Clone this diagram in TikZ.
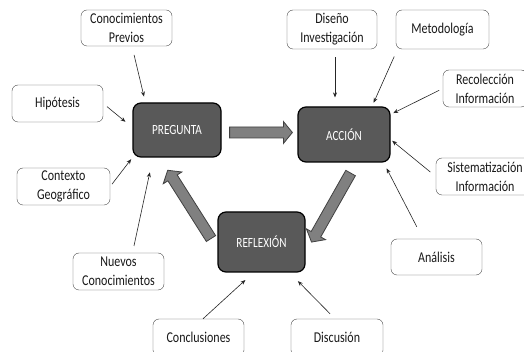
\documentclass[tikz,border=0pt]{standalone}
\usepackage{fontspec}
\setmainfont{Carlito}[FakeStretch=0.8]
\usetikzlibrary{calc,arrows.meta}
\definecolor{stagefill}{RGB}{89,89,89}
\definecolor{arrowfill}{RGB}{128,128,128}
\tikzset{
	box/.style={draw=black!70, fill=white, rounded corners=6pt, minimum width=91pt, minimum height=37pt, align=center, inner sep=1pt, text=black!90, font=\fontsize{15}{19}\selectfont},
	stage/.style={draw=black, line width=1.2pt, fill=stagefill, rounded corners=8pt, text=white, font=\fontsize{14}{17}\selectfont},
	conn/.style={draw=black!85, line width=0.6pt, -{Stealth[length=5pt,width=4pt]}},
	bigarr/.style={fill=arrowfill, draw=black!75, line width=0.8pt, line join=miter}
}
% block arrow: from, to, shorten at start, shorten at end
\newcommand{\flowarrow}[4]{
	\path (#1) coordinate (fa-a) (#2) coordinate (fa-b);
	\path ($(fa-a)!#3!(fa-b)$) coordinate (fa-s) ($(fa-b)!#4!(fa-a)$) coordinate (fa-t);
	\path ($(fa-t)!9pt!(fa-s)$) coordinate (fa-h);
	\filldraw[bigarr] ($(fa-s)!5.5pt!90:(fa-t)$) -- ($(fa-h)!5.5pt!-90:(fa-s)$) -- ($(fa-h)!11pt!-90:(fa-s)$) -- (fa-t) -- ($(fa-h)!11pt!90:(fa-s)$) -- ($(fa-h)!5.5pt!90:(fa-s)$) -- ($(fa-s)!5.5pt!-90:(fa-t)$) -- cycle;
}

\begin{document}
\begin{tikzpicture}[x=1pt,y=-1pt]
		\clip (0,0) rectangle (524,352);
		\fill[white] (0,0) rectangle (524,352);
		
		\node[stage, minimum width=88pt, minimum height=54pt] (preg) at (177,130) {PREGUNTA};
		\node[stage, minimum width=92pt, minimum height=55pt] (acc) at (344,134.5) {ACCIÓN};
		\node[stage, minimum width=87pt, minimum height=60pt] (refl) at (261.5,242) {REFLEXIÓN};
		
		\node[box, minimum height=36pt] (prev) at (126.5,28) {Conocimientos\\Previos};
		\node[box] (hip) at (57.5,103.5) {Hipótesis};
		\node[box, minimum width=93pt] (ctx) at (63.5,186.5) {Contexto\\Geográfico};
		\node[box] (nuevo) at (118.5,271.5) {Nuevos\\Conocimientos};
		\node[box] (concl) at (198.5,337.5) {Conclusiones};
		\node[box, minimum width=92pt] (disc) at (337,337.5) {Discusión};
		\node[box, minimum height=36pt] (anal) at (436.5,257) {Análisis};
		\node[box, minimum width=90pt, minimum height=39pt] (dis) at (332,29.5) {Diseño\\Investigación};
		\node[box, minimum width=93pt, minimum height=39pt] (met) at (442.5,29.5) {Metodología};
		\node[box, minimum width=84pt] (rec) at (485,88.5) {Recolección\\Información};
		\node[box, minimum width=98pt] (sist) at (485,176.5) {Sistematización\\Información};
		
		\flowarrow{[yshift=-2.5pt]preg.east}{[yshift=2pt]acc.west}{8pt}{5pt}
		\flowarrow{[xshift=12.5pt]acc.south}{[yshift=-10.5pt]refl.east}{12pt}{12pt}
		\flowarrow{[yshift=-6.7pt]refl.west}{[xshift=-17.3pt]preg.south}{12pt}{15pt}
		
		\draw[conn, shorten <=9pt, shorten >=6pt] ([xshift=5.5pt]prev.south) -- ([xshift=13pt]preg.north west);
		\draw[conn, shorten <=5pt, shorten >=9pt] (hip.east) -- ([yshift=2.5pt]preg.west);
		\draw[conn, shorten <=3pt, shorten >=2pt] (ctx.east) -- (preg.south west);
		\draw[conn, shorten <=7pt, shorten >=15pt] ([xshift=14pt]nuevo.north) -- ([xshift=-24pt]preg.south);
		\draw[conn, shorten >=11pt] ([xshift=4.5pt]concl.north) -- ([xshift=-8pt]refl.south);
		\draw[conn, shorten <=7pt, shorten >=12pt] ([xshift=-2pt]disc.north) -- ([xshift=28pt]refl.south);
		\draw[conn, shorten <=13.5pt, shorten >=6.5pt] ([xshift=-13.5pt]anal.north) -- ([xshift=-7pt]acc.south east);
		\draw[conn, shorten <=7pt, shorten >=2pt] (sist.west) -- ([yshift=-5pt]acc.east);
		\draw[conn, shorten <=4pt, shorten >=3pt] (rec.west) -- ([yshift=-8pt]acc.north east);
		\draw[conn, shorten <=8pt, shorten >=4pt] ([xshift=-45pt]met.south) -- ([xshift=28pt]acc.north);
		\draw[conn, shorten <=8pt, shorten >=9pt] ([xshift=3pt]dis.south) -- ([xshift=-9pt]acc.north);
\end{tikzpicture}
\end{document}
